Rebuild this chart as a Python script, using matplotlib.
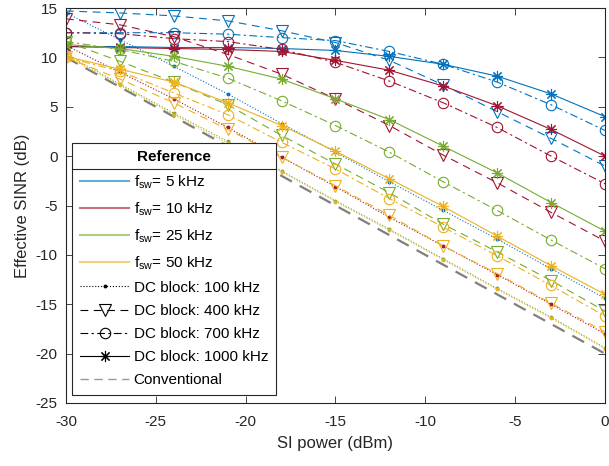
import matplotlib
matplotlib.use("Agg")
import matplotlib.pyplot as plt
from matplotlib.lines import Line2D

plt.rcParams['font.family'] = ['Liberation Sans', 'DejaVu Sans']
plt.rcParams['mathtext.fontset'] = 'custom'
plt.rcParams['mathtext.rm'] = 'Liberation Sans'
plt.rcParams['axes.unicode_minus'] = False

si_power = [-30, -27, -24, -21, -18, -15, -12, -9, -6, -3, 0]

# fsw = 5 kHz
blue_100 = [14.5, 11.8, 9.1, 6.3, 3.3, 0.4, -2.6, -5.5, -8.4, -11.4, -14.4]
blue_400 = [14.7, 14.5, 14.2, 13.7, 12.7, 11.5, 9.7, 7.2, 4.5, 1.8, -1.0]
blue_700 = [12.5, 12.5, 12.5, 12.35, 12.0, 11.7, 10.6, 9.3, 7.5, 5.2, 2.6]
blue_1000 = [11.1, 11.1, 11.0, 11.0, 10.9, 10.7, 10.1, 9.3, 8.1, 6.3, 4.0]
# fsw = 10 kHz
red_100 = [11.2, 8.5, 5.8, 2.9, -0.1, -3.1, -6.2, -9.1, -12.0, -15.0, -18.0]
red_400 = [13.9, 13.3, 12.1, 10.3, 8.3, 5.8, 3.1, 0.1, -2.7, -5.7, -8.6]
red_700 = [12.5, 12.4, 11.9, 11.6, 10.8, 9.5, 7.6, 5.4, 2.9, 0.0, -2.8]
red_1000 = [11.1, 11.0, 10.9, 10.8, 10.6, 9.7, 8.7, 7.1, 5.1, 2.7, 0.0]
# fsw = 25 kHz
green_100 = [10.3, 7.3, 4.35, 1.5, -1.5, -4.5, -7.4, -10.4, -13.4, -16.3, -19.4]
green_400 = [11.6, 9.6, 7.5, 5.2, 2.1, -0.8, -3.7, -6.9, -9.7, -12.6, -15.7]
green_700 = [11.6, 10.8, 9.6, 7.9, 5.6, 3.1, 0.4, -2.6, -5.5, -8.5, -11.4]
green_1000 = [11.3, 10.9, 10.1, 9.1, 7.8, 5.8, 3.7, 1.0, -1.7, -4.7, -7.6]
# fsw = 50 kHz
orange_100 = [10.1, 7.2, 4.2, 1.3, -1.6, -4.6, -7.5, -10.5, -13.5, -16.4, -19.5]
orange_400 = [10.0, 7.8, 5.4, 2.7, -0.1, -3.0, -6.0, -9.1, -11.9, -14.9, -17.8]
orange_700 = [10.0, 8.6, 6.4, 4.2, 1.4, -1.3, -4.3, -7.2, -10.1, -13.1, -16.2]
orange_1000 = [10.1, 8.8, 7.5, 5.4, 3.1, 0.5, -2.3, -5.1, -8.1, -11.1, -14.0]

conventional = [10, 7, 4, 1, -2, -5, -8, -11, -14, -17, -20]

fsw_labels = ['5', '10', '25', '50']
dc_labels = ['100', '400', '700', '1000']
colors = ['#0072BD', '#A2142F', '#77AC30', '#EDB120']
series = [
    [blue_100, blue_400, blue_700, blue_1000],
    [red_100, red_400, red_700, red_1000],
    [green_100, green_400, green_700, green_1000],
    [orange_100, orange_400, orange_700, orange_1000],
]
styles = [':', (0, (7, 5)), (0, (7, 3, 2, 3)), '-']
markers = ['.', 'v', 'o', (8, 2, 0)]
msizes = [4, 8, 7.5, 8]

fig = plt.figure(figsize=(6.09, 4.66), dpi=100)
ax = fig.add_axes([0.1084, 0.1352, 0.8850, 0.8476])

ax.plot(si_power, conventional, color='#7f7f7f', lw=1.6, ls=(0, (6, 4)))
for c, col in enumerate(colors):
    for k in range(4):
        ax.plot(si_power, series[c][k], color=col, lw=0.8, ls=styles[k],
                marker=markers[k], ms=msizes[k], mfc='none' if k in (1, 2) else col,
                mew=0.8)

ax.set_xlim(-30, 0)
ax.set_ylim(-25, 15)
ax.set_xticks([-30, -25, -20, -15, -10, -5, 0])
ax.set_yticks([-25, -20, -15, -10, -5, 0, 5, 10, 15])
ax.tick_params(direction='in', top=True, right=True, labelsize=11, colors='#262626',
               length=5, width=0.6)
ax.tick_params(axis='x', pad=9)
ax.tick_params(axis='y', pad=6)
for s in ax.spines.values():
    s.set_color('#262626')
    s.set_linewidth(0.8)
ax.set_xlabel('SI power (dBm)', fontsize=12, color='#262626', labelpad=5)
ax.set_ylabel('Effective SINR (dB)', fontsize=12, color='#262626')

handles = []
labels = []
for f, col in zip(fsw_labels, colors):
    handles.append(Line2D([], [], color=col, lw=1.5, alpha=0.6))
    labels.append(r'f$_{\rm sw}$= ' + f + ' kHz')
for k, d in enumerate(dc_labels):
    handles.append(Line2D([], [], color='black', lw=0.8, ls=styles[k], marker=markers[k],
                          ms=msizes[k], mfc='none' if k in (1, 2) else 'black', mew=0.8))
    labels.append('DC block: ' + d + ' kHz')
handles.append(Line2D([], [], color='#9a9a9a', lw=1.0, ls=(0, (6, 4))))
labels.append('Conventional')

leg = ax.legend(handles, labels, loc='lower left', bbox_to_anchor=(0.012, 0.02),
                borderaxespad=0, fontsize=11, handlelength=3.2, handletextpad=0.3,
                labelspacing=0.6, fancybox=False, framealpha=1, borderpad=0.5,
                edgecolor='#262626', title='Reference',
                title_fontproperties={'weight': 'bold', 'size': 11})
leg.get_frame().set_linewidth(0.8)

fig.canvas.draw()
fb = leg.get_frame().get_window_extent()
tb = leg.get_title().get_window_extent()
ysep = tb.y0 - 5
inv = fig.transFigure.inverted()
(x0, y0) = inv.transform((fb.x0, ysep))
(x1, _) = inv.transform((fb.x1, ysep))
fig.add_artist(Line2D([x0, x1], [y0, y0], transform=fig.transFigure,
                      color='#262626', lw=0.8, zorder=10))

fig.savefig('out.png', dpi=100)
